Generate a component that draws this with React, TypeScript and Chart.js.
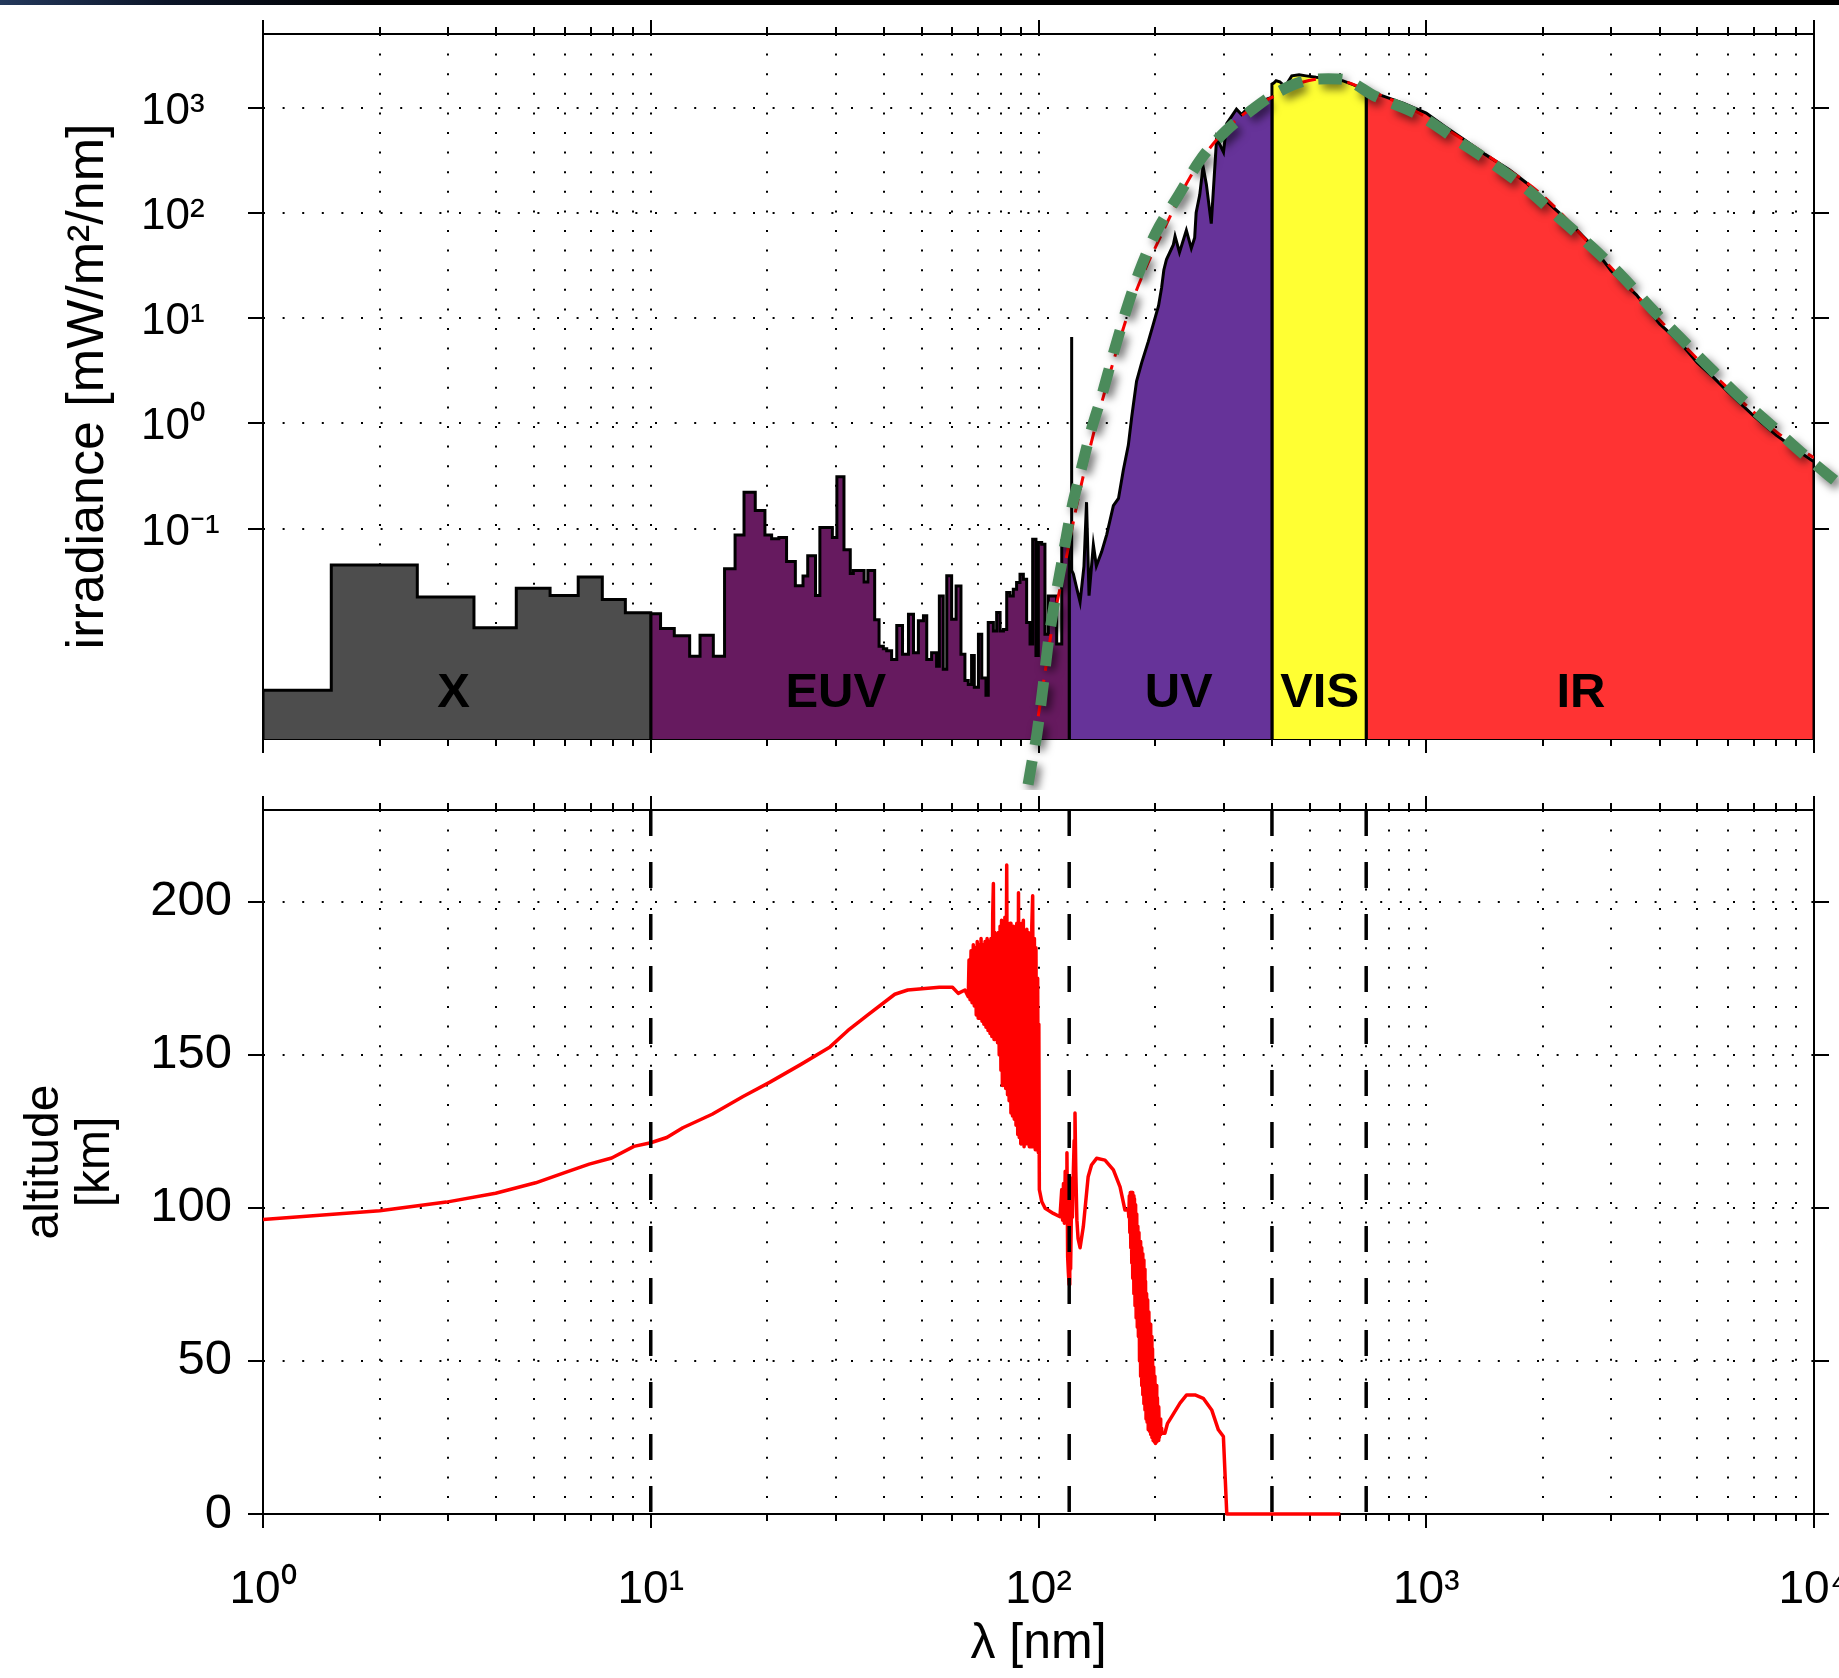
import React, { useEffect, useRef } from 'react';
import { Chart, registerables } from 'chart.js';

Chart.register(...registerables);

const FONT = "'Liberation Sans', Arial, Helvetica, sans-serif";

// ---------- axes ----------
const X_MIN = 1;
const X_MAX = 10000;
const X_TICKS = [1, 2, 3, 4, 5, 6, 7, 8, 9, 10, 20, 30, 40, 50, 60, 70, 80, 90, 100, 200, 300, 400, 500, 600, 700, 800, 900, 1000, 2000, 3000, 4000, 5000, 6000, 7000, 8000, 9000, 10000];
const X_DECADES = [1, 10, 100, 1000, 10000];
const X_DECADE_LABELS = ['10⁰', '10¹', '10²', '10³', '10⁴'];

const TOP_Y_MIN = 0.001;
const TOP_Y_MAX = 5000;
const TOP_Y_TICKS = [0.1, 1, 10, 100, 1000];
const TOP_Y_LABELS = ['10⁻¹', '10⁰', '10¹', '10²', '10³'];

const BOT_Y_MIN = 0;
const BOT_Y_MAX = 230;
const BOT_Y_TICKS = [0, 50, 100, 150, 200];

// ---------- top panel: solar spectrum by band ----------
const BAND_NAMES = ['X', 'EUV', 'UV', 'VIS', 'IR'];
const BAND_COLORS = ['#4d4d4d', '#661a5f', '#663399', '#ffff33', '#ff3333'];
const BAND_LABEL_LAMBDA = [3.1, 30, 230, 531, 2506];
const BAND_LABEL_VALUE = 0.00202;

// X band histogram (bin edges nm, irradiance per bin)
const X_EDGES = [1, 1.5, 2.5, 3.5, 4.5, 5.5, 6.5, 7.5, 8.6, 10];
const X_VALUES = [0.0029, 0.045, 0.0224, 0.0114, 0.0271, 0.0231, 0.0346, 0.0212, 0.0158];

// EUV band histogram
const EUV_EDGES = [10, 10.6, 11.5, 12.6, 13.4, 14.5, 15.5, 16.5, 17.4, 18.6, 19.7, 20.5, 21.4, 22.4, 23.6, 24.7, 25.4, 26.6, 27.3, 29.4, 30.2, 31.5, 32.7, 33.3, 35.5, 36.3, 37.8, 38.8, 39.8, 40.6, 41.8, 43.1, 44.6, 46.2, 47.6, 49.0, 50.5, 51.5, 53.0, 54.6, 55.5, 56.8, 58.0, 59.7, 61.3, 63.1, 64.6, 65.9, 67.2, 68.3, 70.0, 71.4, 73.2, 74.2, 76.5, 78.0, 79.6, 81.2, 82.8, 84.4, 86.1, 87.8, 89.6, 91.4, 93.2, 95.1, 96.6, 98.5, 99.9, 101.9, 103.9, 106.0, 108.1, 111.4, 114.8, 117.0, 120];
const EUV_VALUES = [0.0155, 0.0112, 0.0096, 0.0061, 0.0097, 0.0061, 0.0414, 0.087, 0.221, 0.148, 0.087, 0.080, 0.082, 0.0486, 0.0286, 0.0354, 0.0552, 0.0231, 0.102, 0.082, 0.31, 0.063, 0.0373, 0.040, 0.031, 0.040, 0.0136, 0.0076, 0.0072, 0.0069, 0.0057, 0.012, 0.0064, 0.0153, 0.0066, 0.0133, 0.0148, 0.0057, 0.0066, 0.0049, 0.0229, 0.0046, 0.0355, 0.0137, 0.0285, 0.0064, 0.0036, 0.0033, 0.0062, 0.0031, 0.0099, 0.0038, 0.0026, 0.0128, 0.0106, 0.0159, 0.0106, 0.011, 0.0247, 0.0229, 0.0265, 0.0307, 0.0368, 0.033, 0.0128, 0.008, 0.079, 0.0062, 0.0736, 0.071, 0.0099, 0.0229, 0.0229, 0.008, 0.076, 0.082];

// UV band spectrum
const UV_L = [120, 121.3, 121.5, 121.8, 122.0, 123, 125.5, 128, 131, 133, 135, 138.5, 141, 145.5, 150, 156, 160.8, 165.5, 170.5, 174, 179, 184.5, 192, 198, 204, 207.7, 210.5, 213.8, 222.6, 225, 231, 240.6, 247.8, 252.8, 255, 260.5, 265.7, 271, 279, 285, 288, 300, 305.8, 324, 334, 344, 358, 372, 390.5, 400];
const UV_V = [0.05, 0.04, 6.6, 6.6, 0.04, 0.037, 0.027, 0.02, 0.044, 0.178, 0.023, 0.07, 0.044, 0.06, 0.088, 0.165, 0.193, 0.36, 0.62, 1.16, 2.5, 3.75, 6.0, 8.9, 13.1, 19.4, 28.6, 36, 49.5, 60, 42, 68, 46, 58, 100, 148, 276, 186, 79, 276, 515, 377, 705, 964, 857, 964, 1000, 1125, 1216, 1250];

// VIS band spectrum
const VIS_L = [400, 405, 410, 419, 427, 434, 440, 450, 470, 490, 520, 540, 580, 608, 650, 700];
const VIS_V = [1670, 1720, 1800, 1760, 1650, 1500, 1750, 2000, 2050, 2000, 1940, 1920, 1860, 1800, 1640, 1456];

// IR band spectrum
const IR_L = [700, 775, 875, 1000, 1114, 1257, 1419, 1641, 1807, 2000, 2303, 2663, 3000, 3483, 4000, 4537, 5000, 5505, 6000, 7000, 8000, 9000, 10000];
const IR_V = [1456, 1283, 1094, 885, 664, 493, 359, 255, 194, 138, 86, 50, 28, 16.6, 8.8, 5.74, 3.76, 2.73, 1.99, 1.17, 0.77, 0.56, 0.43];

// green thick dashed reference curve
const GREEN_L = [94, 96, 99, 103, 106, 110, 115, 119, 122, 128, 136, 146, 156, 168, 182, 201, 228, 264, 305, 355, 400, 478, 560, 608, 738, 964, 1198, 1490, 1807, 2194, 2663, 3231, 3826, 4537, 5375, 6513, 7900, 9590, 11600];
const GREEN_V = [3.7e-4, 5.8e-4, 1.1e-3, 3.4e-3, 8.3e-3, 0.0198, 0.049, 0.10, 0.16, 0.33, 0.8, 1.9, 4.6, 11.6, 27.7, 65, 140, 335, 605, 950, 1300, 1763, 1880, 1857, 1283, 839, 493, 290, 171, 90.6, 48, 24, 12.1, 6.4, 3.4, 1.7, 0.9, 0.475, 0.265];

// red thin dashed reference curve
const RED_L = [98, 100, 105, 109, 115.4, 125.4, 136, 152.8, 175.6, 212, 246, 288, 340, 400, 470, 560, 700, 900, 1200, 1500, 2000, 3000, 4000, 5000, 6000, 7000, 8000, 9000, 10000];
const RED_V = [1.0e-3, 1.7e-3, 5.4e-3, 0.0129, 0.035, 0.164, 0.6, 2.97, 15.3, 73, 218, 495, 880, 1250, 1700, 1900, 1480, 1000, 540, 315, 145, 30, 9.6, 4.1, 2.15, 1.27, 0.83, 0.6, 0.47];

// ---------- bottom panel: absorption altitude ----------
const ALT_A_L = [1, 2, 2.97, 3.98, 5.05, 6.0, 6.94, 7.93, 9.05, 10, 11, 12.1, 14.4, 17.3, 20.3, 24.4, 29, 32.2, 36.3, 42.6, 46, 55.5, 60, 62.1, 64.6, 65.9];
const ALT_A_V = [96.2, 99.1, 101.9, 104.8, 108.2, 111.5, 114.3, 116.3, 120.1, 121.3, 123, 126.2, 130.6, 136.4, 141.1, 146.9, 152.6, 157.9, 163.1, 169.8, 171.2, 172.1, 172.1, 170.1, 171.2, 169];

const ALT_B_L = [66.2, 66.6, 67.0, 67.4, 67.9, 68.3, 68.7, 69.1, 69.5, 69.9, 70.3, 70.7, 71.1, 71.5, 71.9, 72.3, 72.8, 73.2, 73.7, 74.1, 74.5, 75.0, 75.4, 75.8, 76.2, 76.5, 76.8, 77.2, 77.6, 78.0, 78.4, 78.8, 79.2, 79.6, 80.0, 80.3, 80.7, 81.1, 81.5, 81.9, 82.3, 82.8, 83.2, 83.6, 84.0, 84.5, 84.9, 85.3, 85.7, 86.2, 86.6, 87.0, 87.5, 87.9, 88.4, 88.8, 89.2, 89.6, 90.0, 90.5, 91.0, 91.4, 91.8, 92.3, 92.8, 93.3, 93.8, 94.2, 94.7, 95.2, 95.7, 96.1, 96.6, 97.1, 97.6, 98.1, 98.5, 99.0, 99.5, 99.9, 100.2];
const ALT_B_V = [181, 168, 184, 167, 186, 166, 185, 163, 187, 162, 186, 162, 188, 161, 186, 160, 187, 159, 188, 158, 187, 157, 188, 156, 196, 206, 155, 190, 156, 188, 154, 190, 150, 192, 145, 194, 140, 190, 140, 195, 139, 212, 137, 192, 135, 193, 131, 190, 130, 192, 129, 190, 127, 193, 124, 203, 123, 192, 121, 193, 121, 194, 120, 190, 121, 191, 121, 190, 120, 189, 120, 192, 202, 120, 188, 119, 185, 119, 175, 118, 160];

const ALT_C_L = [100.5, 102, 104, 109.2, 113.6, 114.8, 115.4, 116.0, 116.6, 117.2, 117.8, 118.4, 118.9, 119.4, 119.9, 120.4, 121.0, 121.6, 122.3, 123.0, 123.6, 124.2, 124.8, 125.6, 126.5, 128, 130.5, 134.3, 137, 141.2, 148.4, 156, 162.3, 167.1, 170.5];
const ALT_C_V = [106, 102, 99.9, 98.2, 97.1, 106, 96, 108, 95, 112, 98, 118, 84, 79, 75, 110, 80, 100, 97, 112, 122, 131, 112, 96, 90, 87, 93.9, 110.2, 114, 116.2, 115.6, 112.4, 106.9, 99.3, 99.3];

const ALT_D_L = [171.0, 171.5, 172.0, 172.5, 173.0, 173.5, 174.0, 174.5, 175.0, 175.6, 176.2, 176.8, 177.4, 178.0, 178.6, 179.2, 179.8, 180.4, 181.0, 181.6, 182.2, 182.8, 183.4, 184.0, 184.6, 185.2, 185.8, 186.4, 187.0, 187.6, 188.2, 188.8, 189.4, 190.0, 190.6, 191.2, 191.9, 192.6, 193.3, 194.0, 194.7, 195.4, 196.1, 196.8, 197.5, 198.2, 198.9, 199.6, 200.3, 201.0, 201.8, 202.6, 203.4, 204.2, 205.0, 205.8, 206.6, 207.4];
const ALT_D_V = [97, 104, 92, 105, 87, 105, 82, 105, 77, 104, 72, 103, 68, 101, 64, 98, 61, 94, 58, 92, 50, 89, 45, 87, 42, 85, 39, 83, 36, 80, 34, 76, 31, 72, 30, 70, 27.5, 66, 27, 62, 26, 58, 25, 54, 24, 48, 23.5, 45, 23, 42, 23.5, 38, 24, 35, 25, 31, 26, 28];

const ALT_E_L = [207.8, 211.8, 215, 220.6, 231.7, 241, 253.3, 266, 279.7, 291, 299.8, 303, 305.9, 400, 500, 600];
const ALT_E_V = [26.4, 26.4, 29.5, 31.8, 36.2, 38.9, 38.9, 37.8, 34, 27.5, 25.3, 12, 0, 0, 0, 0];

const VLINE_LAMBDAS = [10, 120, 400, 700];

// ---------- helpers ----------
const toPts = (l, v) => l.map((x, i) => ({ x, y: v[i] }));

function stepBand(edges, values, ymin) {
  const pts = [{ x: edges[0], y: ymin }];
  for (let i = 0; i < values.length; i++) pts.push({ x: edges[i], y: values[i] });
  pts.push({ x: edges[edges.length - 1], y: values[values.length - 1] });
  pts.push({ x: edges[edges.length - 1], y: ymin });
  return pts;
}

function lineBand(l, v, ymin) {
  return [{ x: l[0], y: ymin }, ...toPts(l, v), { x: l[l.length - 1], y: ymin }];
}

const noPad = (s) => {
  s.paddingLeft = 0;
  s.paddingRight = 0;
  s.paddingTop = 0;
  s.paddingBottom = 0;
};

const dotted = { color: '#000', lineWidth: 2, drawTicks: false };
const dottedBorder = { display: false, dash: [2, 17.6] };

function framePlugin(id, yTicks) {
  return {
    id,
    beforeDatasetsDraw(chart) {
      const { ctx, chartArea: a, scales } = chart;
      ctx.save();
      ctx.strokeStyle = '#000';
      ctx.lineWidth = 2;
      ctx.setLineDash([]);
      ctx.strokeRect(a.left, a.top, a.right - a.left, a.bottom - a.top);
      const seg = (x1, y1, x2, y2) => {
        ctx.beginPath();
        ctx.moveTo(x1, y1);
        ctx.lineTo(x2, y2);
        ctx.stroke();
      };
      for (const v of X_TICKS) {
        const px = Math.round(scales.x.getPixelForValue(v));
        const len = X_DECADES.includes(v) ? 14 : 7;
        seg(px, a.top, px, a.top - len);
        seg(px, a.bottom, px, a.bottom + len);
      }
      for (const v of yTicks) {
        const py = Math.round(scales.y.getPixelForValue(v));
        seg(a.left, py, a.left - 15, py);
        seg(a.right, py, a.right + 15, py);
      }
      ctx.restore();
    },
  };
}

const shadowPlugin = {
  id: 'greenShadow',
  beforeDatasetDraw(chart, args) {
    const ds = chart.data.datasets[args.index];
    if (ds.label === 'blackbody') {
      const ctx = chart.ctx;
      ctx.save();
      ctx.shadowColor = 'rgba(0,0,0,0.55)';
      ctx.shadowBlur = 9;
      ctx.shadowOffsetX = 4;
      ctx.shadowOffsetY = 5;
    }
  },
  afterDatasetDraw(chart, args) {
    const ds = chart.data.datasets[args.index];
    if (ds.label === 'blackbody') chart.ctx.restore();
  },
};

const bandLabelPlugin = {
  id: 'bandLabels',
  afterDatasetsDraw(chart) {
    const { ctx, scales } = chart;
    ctx.save();
    ctx.fillStyle = '#000';
    ctx.font = `bold 49px ${FONT}`;
    ctx.textAlign = 'center';
    ctx.textBaseline = 'alphabetic';
    const py = scales.y.getPixelForValue(BAND_LABEL_VALUE);
    BAND_NAMES.forEach((name, i) => {
      ctx.fillText(name, scales.x.getPixelForValue(BAND_LABEL_LAMBDA[i]), py);
    });
    ctx.restore();
  },
};

function topConfig() {
  const bandData = [
    stepBand(X_EDGES, X_VALUES, TOP_Y_MIN),
    stepBand(EUV_EDGES, EUV_VALUES, TOP_Y_MIN),
    lineBand(UV_L, UV_V, TOP_Y_MIN),
    lineBand(VIS_L, VIS_V, TOP_Y_MIN),
    lineBand(IR_L, IR_V, TOP_Y_MIN),
  ];
  const bands = bandData.map((data, i) => ({
    label: BAND_NAMES[i],
    data,
    stepped: i < 2 ? true : false,
    backgroundColor: BAND_COLORS[i],
    borderColor: '#000',
    borderWidth: 3,
    fill: 'start',
    pointRadius: 0,
    order: 2 + i,
    xAxisID: 'x',
    yAxisID: 'y',
  }));
  return {
    type: 'line',
    data: {
      datasets: [
        {
          label: 'blackbody',
          data: toPts(GREEN_L, GREEN_V),
          borderColor: '#4b8b5b',
          borderWidth: 11,
          borderDash: [24, 16],
          borderCapStyle: 'butt',
          pointRadius: 0,
          fill: false,
          cubicInterpolationMode: 'monotone',
          clip: false,
          order: 0,
          xAxisID: 'x',
          yAxisID: 'y',
        },
        {
          label: 'model',
          data: toPts(RED_L, RED_V),
          borderColor: '#ff0000',
          borderWidth: 3,
          borderDash: [14, 9],
          pointRadius: 0,
          fill: false,
          cubicInterpolationMode: 'monotone',
          order: 1,
          xAxisID: 'x',
          yAxisID: 'y',
        },
        ...bands,
      ],
    },
    options: {
      responsive: false,
      animation: false,
      events: [],
      devicePixelRatio: 1,
      layout: { padding: { top: 34, right: 25, bottom: 51, left: 0 }, autoPadding: false },
      plugins: { legend: { display: false }, tooltip: { enabled: false } },
      scales: {
        x: {
          type: 'logarithmic',
          min: X_MIN,
          max: X_MAX,
          position: 'bottom',
          afterBuildTicks: (s) => { s.ticks = X_TICKS.map((v) => ({ value: v })); },
          afterFit: (s) => { s.height = 0; noPad(s); },
          ticks: { display: false },
          grid: dotted,
          border: dottedBorder,
        },
        y: {
          type: 'logarithmic',
          min: TOP_Y_MIN,
          max: TOP_Y_MAX,
          position: 'left',
          weight: 0,
          afterBuildTicks: (s) => { s.ticks = TOP_Y_TICKS.map((v) => ({ value: v })); },
          afterFit: (s) => { s.width = 122; noPad(s); },
          ticks: {
            crossAlign: 'far',
            labelOffset: 4,
            color: '#000',
            font: { family: FONT, size: 44, lineHeight: 1 },
            callback: (v, i) => TOP_Y_LABELS[i],
          },
          grid: dotted,
          border: dottedBorder,
        },
        yTitle: {
          type: 'linear',
          position: 'left',
          weight: 1,
          afterFit: (s) => { s.width = 141; noPad(s); },
          ticks: { display: false },
          grid: { display: false },
          border: { display: false },
          title: {
            display: true,
            text: 'irradiance [mW/m²/nm]',
            color: '#000',
            font: { family: FONT, size: 52, lineHeight: 1 },
            padding: { top: 63, bottom: 0 },
          },
        },
      },
    },
    plugins: [framePlugin('frameTop', TOP_Y_TICKS), shadowPlugin, bandLabelPlugin],
  };
}

function botConfig() {
  const altL = [...ALT_A_L, ...ALT_B_L, ...ALT_C_L, ...ALT_D_L, ...ALT_E_L];
  const altV = [...ALT_A_V, ...ALT_B_V, ...ALT_C_V, ...ALT_D_V, ...ALT_E_V];
  const vlines = VLINE_LAMBDAS.map((l, i) => ({
    label: 'edge' + i,
    data: [{ x: l, y: BOT_Y_MAX }, { x: l, y: BOT_Y_MIN }],
    borderColor: '#000',
    borderWidth: 3.5,
    borderDash: [26, 26],
    borderCapStyle: 'butt',
    pointRadius: 0,
    fill: false,
    order: 0,
  }));
  return {
    type: 'line',
    data: {
      datasets: [
        ...vlines,
        {
          label: 'altitude',
          data: toPts(altL, altV),
          borderColor: '#ff0000',
          borderWidth: 3.5,
          borderJoinStyle: 'round',
          pointRadius: 0,
          fill: false,
          order: 1,
          clip: 4,
        },
      ],
    },
    options: {
      responsive: false,
      animation: false,
      events: [],
      devicePixelRatio: 1,
      layout: { padding: { top: 20, right: 25, bottom: 0, left: 0 }, autoPadding: false },
      plugins: { legend: { display: false }, tooltip: { enabled: false } },
      scales: {
        x: {
          type: 'logarithmic',
          min: X_MIN,
          max: X_MAX,
          position: 'bottom',
          afterBuildTicks: (s) => { s.ticks = X_TICKS.map((v) => ({ value: v })); },
          afterFit: (s) => { s.height = 164; noPad(s); },
          ticks: {
            autoSkip: false,
            maxRotation: 0,
            minRotation: 0,
            padding: 53,
            color: '#000',
            font: { family: FONT, size: 46, lineHeight: 1 },
            callback: (v) => {
              const i = X_DECADES.indexOf(v);
              return i >= 0 ? X_DECADE_LABELS[i] : '';
            },
          },
          grid: dotted,
          border: dottedBorder,
          title: {
            display: true,
            text: 'λ [nm]',
            color: '#000',
            font: { family: FONT, size: 50, lineHeight: 1 },
            padding: { top: 0, bottom: 9 },
          },
        },
        y: {
          type: 'linear',
          min: BOT_Y_MIN,
          max: BOT_Y_MAX,
          position: 'left',
          afterBuildTicks: (s) => { s.ticks = BOT_Y_TICKS.map((v) => ({ value: v })); },
          afterFit: (s) => { s.width = 263; noPad(s); },
          ticks: {
            padding: 31,
            color: '#000',
            font: { family: FONT, size: 49, lineHeight: 1 },
            callback: (v) => String(v),
          },
          grid: dotted,
          border: dottedBorder,
          title: {
            display: true,
            text: ['altitude', '[km]'],
            color: '#000',
            font: { family: FONT, size: 48, lineHeight: 1.06 },
            padding: { top: 19, bottom: 0 },
          },
        },
      },
    },
    plugins: [framePlugin('frameBottom', BOT_Y_TICKS)],
  };
}

export default function App() {
  const topRef = useRef(null);
  const botRef = useRef(null);
  useEffect(() => {
    const top = new Chart(topRef.current, topConfig());
    const bot = new Chart(botRef.current, botConfig());
    return () => {
      top.destroy();
      bot.destroy();
    };
  }, []);
  return (
    <div style={{ position: 'absolute', left: 0, top: 0, width: 1839, height: 1678, background: '#fff', overflow: 'hidden' }}>
      <canvas ref={topRef} width={1839} height={790} style={{ position: 'absolute', left: 0, top: 0, width: 1839, height: 790 }} />
      <canvas ref={botRef} width={1839} height={888} style={{ position: 'absolute', left: 0, top: 790, width: 1839, height: 888 }} />
      <div style={{ position: 'absolute', left: 0, top: 0, width: 1839, height: 5, background: 'linear-gradient(90deg, #24395c 0%, #0c1528 9%, #000 20%, #000 100%)' }} />
    </div>
  );
}
